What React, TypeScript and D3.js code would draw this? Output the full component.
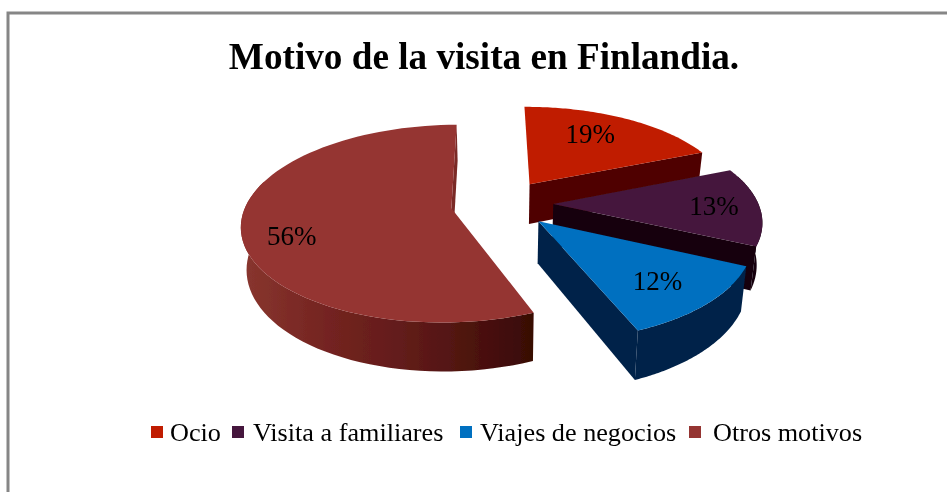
import React from "react";
import * as d3 from "d3";

const categories = ["Ocio", "Visita a familiares", "Viajes de negocios", "Otros motivos"];
const values = [19, 13, 12, 56];
const topColors = ["#C01C00", "#44183C", "#0070C0", "#953432"];
const wallColors = ["#500500", "#15000F", "#002349", "url(#otrosWall)"];
const drawOrder = [0, 1, 3, 2];
const labelRadius = [0.6, 0.8, 0.7, 0.82];
const labelNudge = [[1, -9], [-4, 0], [5, 5], [12, 12]];
const legendTextX = [170, 253, 480, 713];
const legendSwatchX = [151, 232, 460, 689];

const title = "Motivo de la visita en Finlandia.";
const serif = '"Liberation Serif", "Times New Roman", serif';

const cx = 502, cy = 203.5, R = 205, Rs = 95, persp = 0.155, depth = 41, shrink = 0.022, explode = 0.25;
const startDeg = -0.5;

function proj(X: number, Y: number, z: number): [number, number] {
  const w = 1 + persp * Y;
  const sx = (R * X) / w;
  const sy = (-Rs * Y) / w;
  return [cx + sx * (1 - shrink * z), cy + sy + (depth * z) / w];
}

const pieGen = d3.pie<number>().sort(null).startAngle((startDeg * Math.PI) / 180).endAngle(((startDeg + 360) * Math.PI) / 180);
const arcs = pieGen(values);
const line = d3.line<[number, number]>();

function sliceGeom(i: number) {
  const a = arcs[i];
  const mid = (a.startAngle + a.endAngle) / 2;
  const ox = explode * Math.sin(mid), oy = explode * Math.cos(mid);
  const pt = (r: number, ang: number, z: number) =>
    proj(ox + r * Math.sin(ang), oy + r * Math.cos(ang), z);
  const angs = d3.range(0, 81).map((k) => a.startAngle + ((a.endAngle - a.startAngle) * k) / 80);
  const front = angs.filter((t) => Math.cos(t) < 0.3);
  return {
    top: [pt(0, 0, 0), ...angs.map((t) => pt(1, t, 0))],
    outer: [...front.map((t) => pt(1, t, 0)), ...[...front].reverse().map((t) => pt(1, t, 1))],
    endWall: [pt(0, 0, 0), pt(1, a.endAngle, 0), pt(1, a.endAngle, 1), pt(0, 0, 1)],
    label: pt(labelRadius[i], mid, 0),
  };
}

export default function App() {
  return (
    <svg width={947} height={492} style={{ position: "absolute", left: 0, top: 0, background: "#fff" }} fontFamily={serif}>
      <defs>
        <linearGradient id="otrosWall" gradientUnits="userSpaceOnUse" x1={245} x2={532} y1={0} y2={0}>
          <stop offset="0" stopColor="#88352E" />
          <stop offset="0.3" stopColor="#732320" />
          <stop offset="0.55" stopColor="#621C1A" />
          <stop offset="0.8" stopColor="#4C120E" />
          <stop offset="1" stopColor="#380905" />
        </linearGradient>
        <filter id="soft" x="-5%" y="-5%" width="110%" height="110%">
          <feGaussianBlur stdDeviation="0.4" />
        </filter>
      </defs>
      <rect x={8} y={13} width={950} height={500} fill="#fff" stroke="#868686" strokeWidth={3} />
      <g filter="url(#soft)">
        <text x={484} y={69} textAnchor="middle" fontSize={37.2} fontWeight="bold" fill="#000">{title}</text>
        {drawOrder.map((i) => {
          const g = sliceGeom(i);
          const wall = wallColors[i];
          const radial = i === 3 ? "#7A2A28" : wall;
          return (
            <g key={i}>
              <path d={line(g.endWall as any) + "Z"} fill={radial} />
              {g.outer.length > 0 && <path d={line(g.outer as any) + "Z"} fill={wall} />}
              <path d={line(g.top as any) + "Z"} fill={topColors[i]} />
            </g>
          );
        })}
        {drawOrder.map((i) => {
          const g = sliceGeom(i);
          return (
            <text key={i} x={g.label[0] + labelNudge[i][0]} y={g.label[1] + labelNudge[i][1]} dy="0.33em" textAnchor="middle" fontSize={27} fill="#000">
              {values[i]}%
            </text>
          );
        })}
        {categories.map((c, i) => (
          <g key={c}>
            <rect x={legendSwatchX[i]} y={426} width={12} height={12} fill={topColors[i]} />
            <text x={legendTextX[i]} y={441} fontSize={26.2} fill="#000">{c}</text>
          </g>
        ))}
      </g>
    </svg>
  );
}
